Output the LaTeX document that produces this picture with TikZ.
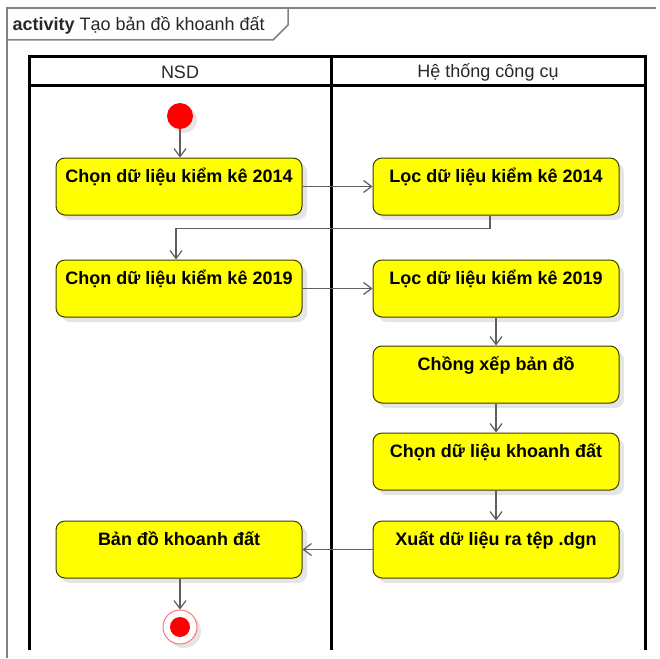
\documentclass[tikz,border=0pt]{standalone}
\usepackage{fontspec}
\setmainfont{Liberation Sans}
\usetikzlibrary{arrows.meta,shadows}
\definecolor{actfill}{RGB}{255,255,0}
\definecolor{actdraw}{RGB}{60,60,0}
\definecolor{flowgray}{RGB}{95,95,95}
\definecolor{framegray}{RGB}{130,130,130}
\definecolor{textgray}{RGB}{40,40,40}
\definecolor{startred}{RGB}{255,0,0}
\begin{document}
\begin{tikzpicture}[x=1pt,y=-1pt,
  font=\fontsize{18}{21}\selectfont,
  act/.style={rectangle, rounded corners=9pt, draw=actdraw, line width=1pt, fill=actfill,
    minimum width=246pt, minimum height=57pt, inner ysep=4pt, text height=20pt, text depth=29pt,
    font=\fontsize{18}{21}\selectfont\bfseries,
    drop shadow={shadow xshift=5pt, shadow yshift=-5pt, fill=black!10, opacity=1}},
  flow/.style={draw=flowgray, line width=1.2pt, -{Straight Barb[length=8pt,width=12pt]}},
  lane/.style={line width=3pt},
  initnode/.style={circle, fill=startred, minimum size=26pt, inner sep=0pt,
    drop shadow={shadow xshift=4pt, shadow yshift=-4pt, fill=black!10, opacity=1}},
  finalnode/.style={circle, draw=startred!55, fill=white, line width=1pt, minimum size=34pt, inner sep=0pt,
    path picture={\fill[startred] (path picture bounding box.center) circle (10pt);},
    drop shadow={shadow xshift=4pt, shadow yshift=-4pt, fill=black!10, opacity=1}}]
\useasboundingbox (0,0) rectangle (660,658);
\draw[framegray, line width=1.5pt] (7,658) -- (7,8) -- (656,8);
\draw[framegray, line width=1.5pt] (7,40) -- (273,40) -- (288,25) -- (288,8);
\node[anchor=base west, textgray] (title) at (9,31) {\textbf{activity} Tạo bản đồ khoanh đất};
\draw[lane] (29,650) -- (29,57) -- (645,57) -- (645,650);
\draw[lane] (29,86) -- (645,86);
\draw[lane] (331,57) -- (331,650);
\node[textgray] (nsd) at (180,72) {NSD};
\node[textgray] (htcc) at (488,72) {Hệ thống công cụ};
\node[initnode] (start) at (180,116) {};
\node[act] (chon14) at (179,186.5) {Chọn dữ liệu kiểm kê 2014};
\node[act] (loc14) at (496,186.5) {Lọc dữ liệu kiểm kê 2014};
\node[act] (chon19) at (179,288.5) {Chọn dữ liệu kiểm kê 2019};
\node[act] (loc19) at (496,288.5) {Lọc dữ liệu kiểm kê 2019};
\node[act] (chong) at (496,374.5) {Chồng xếp bản đồ};
\node[act] (khoanh) at (496,461.5) {Chọn dữ liệu khoanh đất};
\node[act] (xuat) at (496,549.5) {Xuất dữ liệu ra tệp .dgn};
\node[act] (bando) at (179,549.5) {Bản đồ khoanh đất};
\node[finalnode] (stop) at (180,627) {};
\draw[flow] (start) -- (start |- chon14.north);
\draw[flow] (chon14) -- (loc14);
\draw[flow] ([xshift=-6pt]loc14.south) -- ++(0,13) -| ([xshift=-3pt]chon19.north);
\draw[flow] (chon19) -- (loc19);
\draw[flow] (loc19) -- (chong);
\draw[flow] (chong) -- (khoanh);
\draw[flow] (khoanh) -- (xuat);
\draw[flow] (xuat) -- (bando);
\draw[flow] (bando.south -| stop) -- (stop);
\end{tikzpicture}
\end{document}
